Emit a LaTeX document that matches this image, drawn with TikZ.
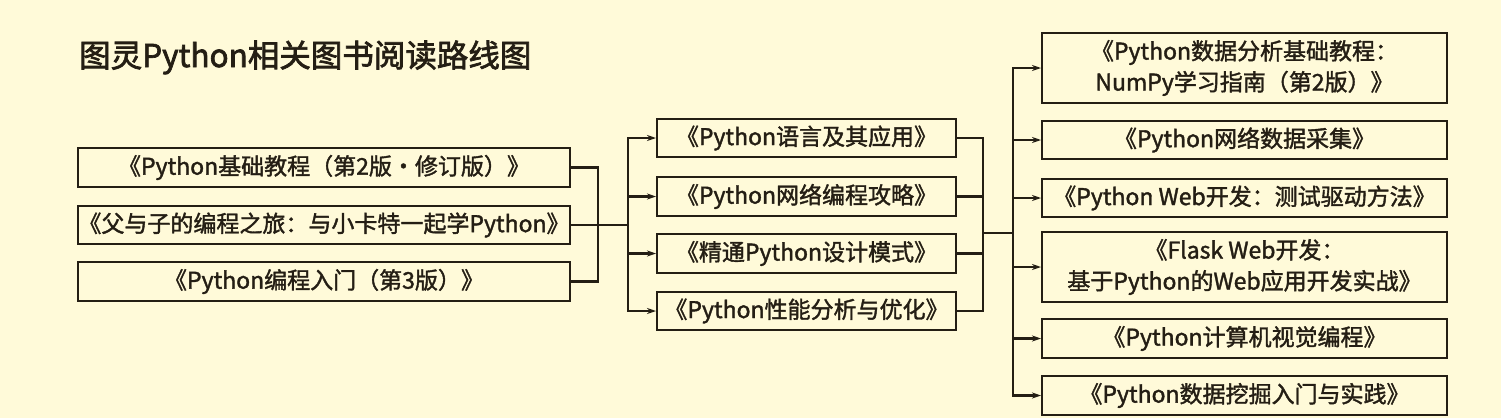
\documentclass[tikz,border=0pt]{standalone}
\usepackage{fontspec}
\setmainfont{Noto Sans CJK SC}[FakeBold=1.6]
\newfontfamily\titlefont{Noto Sans CJK SC}[FakeBold=2.2]
\usetikzlibrary{arrows.meta}
\definecolor{bg}{RGB}{255,250,217}
\definecolor{ink}{RGB}{36,30,20}
\begin{document}
\begin{tikzpicture}[x=1pt,y=-1pt,
  book/.style={draw=ink, line width=2pt, fill=bg, inner sep=0pt, align=center,
    font=\fontsize{23}{31}\selectfont, text=ink},
  link/.style={draw=ink, line width=2.2pt},
  arr/.style={link, -{Stealth[length=9pt,width=6pt]}}]
\fill[bg] (0,0) rectangle (1501,418);
\useasboundingbox (0,0) rectangle (1501,418);

\node[anchor=base west, inner sep=0pt, text=ink, font=\titlefont\fontsize{31.5}{38}\selectfont] (title) at (79,67) {图灵Python相关图书阅读路线图};

% left column
\node[book, minimum width=492pt, minimum height=39pt] (L1) at (324,167.5) {《Python基础教程（第2版·修订版）》};
\node[book, minimum width=492pt, minimum height=38pt] (L2) at (324,225) {《父与子的编程之旅：与小卡特一起学Python》};
\node[book, minimum width=492pt, minimum height=39pt] (L3) at (324,281.5) {《Python编程入门（第3版）》};

% middle column
\node[book, minimum width=299pt, minimum height=38pt] (M1) at (806.5,138) {《Python语言及其应用》};
\node[book, minimum width=299pt, minimum height=39pt] (M2) at (806.5,196.5) {《Python网络编程攻略》};
\node[book, minimum width=299pt, minimum height=39pt] (M3) at (806.5,253.5) {《精通Python设计模式》};
\node[book, minimum width=299pt, minimum height=38pt] (M4) at (806.5,311) {《Python性能分析与优化》};

% right column
\node[book, minimum width=405pt, minimum height=70pt] (R1) at (1244.5,68) {《Python数据分析基础教程：\\NumPy学习指南（第2版）》};
\node[book, minimum width=405pt, minimum height=38pt] (R2) at (1244.5,140) {《Python网络数据采集》};
\node[book, minimum width=405pt, minimum height=38pt] (R3) at (1244.5,198) {《Python Web开发：测试驱动方法》};
\node[book, minimum width=405pt, minimum height=70pt] (R4) at (1244.5,267) {《Flask Web开发：\\基于Python的Web应用开发实战》};
\node[book, minimum width=405pt, minimum height=39pt] (R5) at (1244.5,338.5) {《Python计算机视觉编程》};
\node[book, minimum width=405pt, minimum height=39pt] (R6) at (1244.5,395.5) {《Python数据挖掘入门与实践》};

% junctions
\coordinate (jA) at (598,225);
\coordinate (jB) at (628,225);
\coordinate (jC) at (983,233);
\coordinate (jD) at (1013,233);

\draw[link] (L1.east) -| (jA) |- (L3.east);
\draw[link] (L2.east) -- (jB);
\foreach \m in {M1,M2,M3,M4} \draw[arr] (jB) |- (\m.west);

\draw[link] (M1.east) -| (jC) |- (M4.east);
\draw[link] (M2.east) -| (jC);
\draw[link] (M3.east) -| (jC);
\draw[link] (jC) -- (jD);
\foreach \r in {R1,R2,R3,R4,R5,R6} \draw[arr] (jD) |- (\r.west);
\end{tikzpicture}
\end{document}
